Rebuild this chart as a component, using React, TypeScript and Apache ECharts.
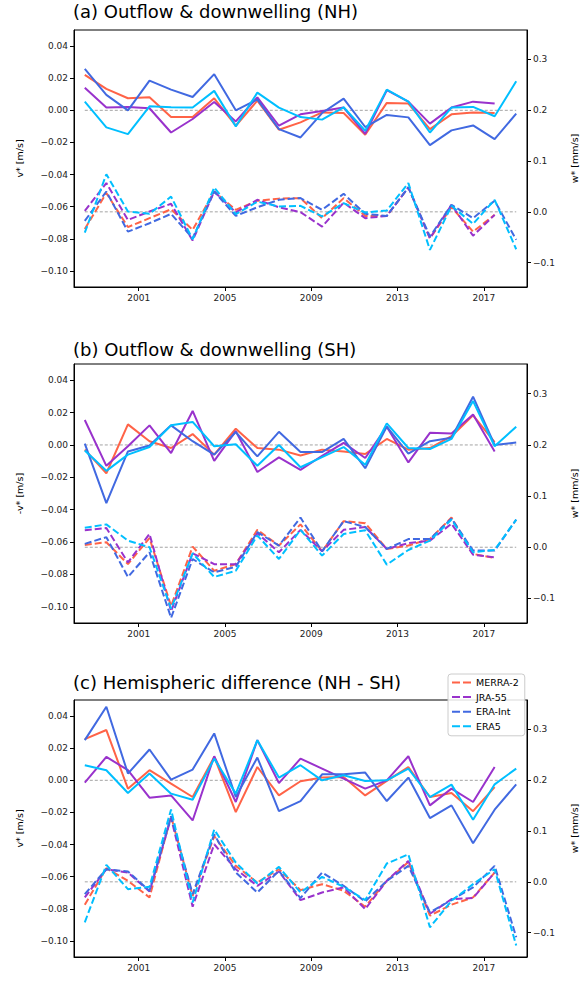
import React, { useEffect, useRef } from "react";
import * as echarts from "echarts";

const years = [1998.5, 1999.5, 2000.5, 2001.5, 2002.5, 2003.5, 2004.5, 2005.5, 2006.5, 2007.5, 2008.5, 2009.5, 2010.5, 2011.5, 2012.5, 2013.5, 2014.5, 2015.5, 2016.5, 2017.5, 2018.5];
const reanalyses = ["MERRA-2", "JRA-55", "ERA-Int", "ERA5"];
const colors = ["#FF6347", "#9932CC", "#4169E1", "#00BFFF"];
const panelTitles = ["(a) Outflow & downwelling (NH)", "(b) Outflow & downwelling (SH)", "(c) Hemispheric difference (NH - SH)"];
const leftNames = ["v* [m/s]", "-v* [m/s]", "v* [m/s]"];
const rightName = "w* [mm/s]";
const xTicks = [2001, 2005, 2009, 2013, 2017];
const vTicks = [-0.1, -0.08, -0.06, -0.04, -0.02, 0, 0.02, 0.04];
const wTicks = [-0.1, 0, 0.1, 0.2, 0.3];

// Panel (a) NH: v* (solid, left axis)
const aV_merra = [0.0221, 0.0133, 0.0075, 0.0081, -0.0042, -0.0042, 0.0075, -0.0096, 0.006, -0.0121, -0.0075, -0.0013, -0.0017, -0.0152, 0.0046, 0.0042, -0.0117, -0.0025, -0.0013, -0.0017];
const aV_jra = [0.014, 0.0017, 0.0021, 0.0013, -0.0138, -0.0054, 0.0052, -0.0069, 0.0081, -0.0096, -0.0025, -0.0004, 0.0017, -0.0146, 0.0125, 0.0054, -0.0083, 0.0017, 0.0054, 0.0042];
const aV_erai = [0.0258, 0.0096, 0.0, 0.0185, 0.0129, 0.0083, 0.0225, 0.0, 0.0067, -0.0117, -0.0169, -0.0017, 0.0073, -0.0104, -0.0029, -0.0044, -0.0217, -0.0125, -0.0094, -0.0179, -0.0021];
const aV_era5 = [0.0054, -0.0106, -0.0148, 0.0025, 0.0019, 0.0017, 0.0121, -0.01, 0.011, 0.0017, -0.0042, -0.0058, 0.0019, -0.0127, 0.0129, 0.0054, -0.0138, 0.0017, 0.0021, -0.0037, 0.0181];
// Panel (a) NH: w* (dashed, right axis)
const aW_merra = [-0.034, 0.037, -0.03, -0.0125, 0.005, -0.0355, 0.04, 0.004, 0.022, 0.026, 0.027, -0.0125, 0.027, -0.008, -0.008, 0.048, -0.052, 0.009, -0.039, -0.006];
const aW_jra = [0.002, 0.0566, -0.016, 0.0007, 0.0158, -0.0566, 0.04, -0.001, 0.0237, 0.009, -0.0007, -0.029, 0.018, -0.0125, -0.008, 0.048, -0.052, 0.0138, -0.047, -0.006];
const aW_erai = [-0.0178, 0.04, -0.039, -0.0224, -0.004, -0.052, 0.04, -0.008, 0.009, 0.0237, 0.027, 0.004, 0.0355, -0.004, -0.008, 0.048, -0.0487, 0.0138, -0.0125, 0.022, -0.055];
const aW_era5 = [-0.041, 0.074, 0.0007, -0.004, 0.03, -0.054, 0.048, -0.0046, 0.02, 0.0105, 0.0118, -0.009, 0.017, -0.0013, 0.0026, 0.0566, -0.075, 0.0118, -0.0237, 0.0237, -0.0737];

// Panel (b) SH: -v* (solid, left axis)
const bV_merra = [-0.0029, -0.0175, 0.0127, 0.0023, -0.0019, 0.0067, -0.006, 0.01, -0.0019, -0.0029, -0.0065, -0.0029, -0.004, -0.0056, 0.0037, -0.0029, -0.0019, 0.0054, 0.0183, 0.0017];
const bV_jra = [0.0154, -0.0129, -0.0008, 0.0121, -0.005, 0.021, -0.0098, 0.0085, -0.0167, -0.0077, -0.0154, -0.0067, 0.0013, -0.0081, 0.0113, -0.0108, 0.0075, 0.0071, 0.0188, -0.004];
const bV_erai = [0.0008, -0.0359, -0.004, -0.0004, 0.0121, 0.0023, -0.006, 0.0079, -0.0071, 0.0081, -0.0044, -0.0044, 0.0037, -0.0144, 0.0113, -0.0054, 0.0023, 0.0044, 0.0298, 0.0, 0.0015];
const bV_era5 = [-0.0035, -0.016, -0.006, -0.0013, 0.0121, 0.0142, -0.0008, 0.0004, -0.0129, 0.0, -0.0138, -0.0075, -0.0013, -0.0123, 0.0133, -0.0019, -0.0025, 0.0037, 0.0271, -0.0008, 0.0113];
// Panel (b) SH: w* (dashed, right axis)
const bW_merra = [0.0046, 0.0099, -0.033, 0.018, -0.115, 0.0013, -0.046, -0.033, 0.034, 0.0033, 0.0447, -0.0079, 0.051, 0.047, -0.0033, 0.0033, 0.016, 0.058, -0.013, -0.021];
const bW_jra = [0.033, 0.0375, -0.0296, 0.026, -0.125, -0.0118, -0.033, -0.033, 0.0276, -0.0099, 0.034, -0.0079, 0.034, 0.0395, -0.0033, 0.0079, 0.013, 0.046, -0.0145, -0.0197];
const bW_erai = [0.0066, 0.0197, -0.058, -0.0099, -0.138, -0.023, -0.049, -0.038, 0.0296, 0.0033, 0.058, -0.0079, 0.051, 0.0395, -0.0033, 0.016, 0.016, 0.056, -0.0066, -0.0066, 0.054];
const bW_era5 = [0.038, 0.0447, 0.013, 0.0, -0.12, -0.0118, -0.058, -0.046, 0.023, -0.023, 0.034, -0.0164, 0.026, 0.033, -0.034, -0.0053, 0.013, 0.054, -0.0099, -0.0053, 0.054];

// Panel (c) NH - SH: v* (solid, left axis)
const cV_merra = [0.0256, 0.0313, -0.0052, 0.0063, -0.0021, -0.0104, 0.0146, -0.0198, 0.0083, -0.0094, -0.0006, 0.0017, 0.0021, -0.0094, -0.0004, 0.0083, -0.0104, -0.0079, -0.0192, -0.0042];
const cV_jra = [-0.0015, 0.0146, 0.0063, -0.0108, -0.0094, -0.025, 0.015, -0.0135, 0.025, -0.0017, 0.0135, 0.0073, 0.001, -0.0052, 0.0, 0.015, -0.0156, -0.0052, -0.0135, 0.0083];
const cV_erai = [0.025, 0.0458, 0.0042, 0.0192, 0.0004, 0.0067, 0.0292, -0.0104, 0.0142, -0.0192, -0.0129, 0.0037, 0.0037, 0.0048, -0.0129, 0.0017, -0.0235, -0.0156, -0.0392, -0.0183, -0.0025];
const cV_era5 = [0.0094, 0.0063, -0.0079, 0.0042, -0.0083, -0.0121, 0.0135, -0.0083, 0.025, 0.0017, 0.0094, 0.0, 0.0031, -0.0004, 0.0, 0.0073, -0.0104, -0.0027, -0.0245, -0.0025, 0.0073];
// Panel (c) NH - SH: w* (dashed, right axis)
const cW_merra = [-0.045, 0.0268, 0.002, -0.0307, 0.129, -0.0275, 0.09, 0.0314, -0.0013, 0.0248, -0.0163, -0.0046, -0.0176, -0.049, 0.002, 0.039, -0.0667, -0.045, -0.0307, 0.0183];
const cW_jra = [-0.0307, 0.0248, 0.0183, -0.019, 0.126, -0.049, 0.074, 0.0248, -0.0078, 0.0203, -0.036, -0.021, -0.011, -0.0536, 0.002, 0.0412, -0.063, -0.034, -0.032, 0.0183];
const cW_erai = [-0.0242, 0.0248, 0.0203, -0.0176, 0.129, -0.0242, 0.0935, 0.0183, -0.021, 0.0216, -0.032, 0.0183, -0.0078, -0.0386, 0.002, 0.0314, -0.06, -0.036, -0.011, 0.0314, -0.109];
const cW_era5 = [-0.0797, 0.0333, -0.0144, -0.0098, 0.1425, -0.0405, 0.103, 0.0379, -0.0033, 0.0294, -0.021, 0.0098, -0.0098, -0.036, 0.036, 0.054, -0.0895, -0.0373, -0.0046, 0.0248, -0.1255];

const vSeries = [
  [aV_merra, aV_jra, aV_erai, aV_era5],
  [bV_merra, bV_jra, bV_erai, bV_era5],
  [cV_merra, cV_jra, cV_erai, cV_era5],
];
const wSeries = [
  [aW_merra, aW_jra, aW_erai, aW_era5],
  [bW_merra, bW_jra, bW_erai, bW_era5],
  [cW_merra, cW_jra, cW_erai, cW_era5],
];

const FONT = "DejaVu Sans";
const gridTops = [30, 364, 700];
const gridHeights = [257, 259, 257];
const titleTops = [2, 340, 673];

const fmtMinus = (s: string) => s.replace("-", "\u2212");

export default function App() {
  const ref = useRef<HTMLDivElement>(null);
  useEffect(() => {
    document.body.style.margin = "0";
    const chart = echarts.init(ref.current!, null, { renderer: "svg" });
    const grids: any[] = [];
    const xAxes: any[] = [];
    const yAxes: any[] = [];
    const series: any[] = [];
    const titles: any[] = [];
    for (let p = 0; p < 3; p++) {
      titles.push({
        text: panelTitles[p],
        left: 73,
        top: titleTops[p],
        padding: 0,
        textStyle: { fontFamily: FONT, fontSize: 18, fontWeight: "normal", color: "#000" },
      });
      grids.push({
        left: 74,
        width: 460,
        top: gridTops[p],
        height: gridHeights[p],
        show: true,
        borderColor: "#000",
        borderWidth: 1,
        backgroundColor: "transparent",
      });
      xAxes.push({
        type: "value",
        gridIndex: p,
        min: 1998,
        max: 2019,
        splitLine: { show: false },
        axisLine: { show: true, onZero: false, lineStyle: { color: "#000", width: 1 } },
        axisTick: { show: true, customValues: xTicks, length: 4, lineStyle: { color: "#000" } },
        axisLabel: {
          customValues: xTicks,
          fontFamily: FONT,
          fontSize: 9,
          color: "#222",
          margin: 6,
          formatter: (v: number) => String(v),
        },
      });
      yAxes.push({
        type: "value",
        gridIndex: p,
        position: "left",
        min: -0.11,
        max: 0.05,
        splitLine: { show: false },
        axisLine: { show: true, onZero: false, lineStyle: { color: "#000", width: 1 } },
        axisTick: { show: true, customValues: vTicks, length: 4, lineStyle: { color: "#000" } },
        axisLabel: {
          customValues: vTicks,
          fontFamily: FONT,
          fontSize: 9,
          color: "#222",
          margin: 6,
          formatter: (v: number) => (Math.abs(v) < 1e-9 ? "0.00" : fmtMinus(v.toFixed(2))),
        },
        name: leftNames[p],
        nameLocation: "middle",
        nameRotate: 90,
        nameGap: 50,
        nameTextStyle: { fontFamily: FONT, fontSize: 9.5, color: "#000" },
      });
      yAxes.push({
        type: "value",
        gridIndex: p,
        position: "right",
        min: -0.148,
        max: 0.358,
        splitLine: { show: false },
        axisLine: { show: true, onZero: false, lineStyle: { color: "#000", width: 1 } },
        axisTick: { show: true, customValues: wTicks, length: 4, lineStyle: { color: "#000" } },
        axisLabel: {
          customValues: wTicks,
          fontFamily: FONT,
          fontSize: 9,
          color: "#222",
          margin: 6,
          formatter: (v: number) => (Math.abs(v) < 1e-9 ? "0.0" : fmtMinus(v.toFixed(1))),
        },
        name: rightName,
        nameLocation: "middle",
        nameRotate: 90,
        nameGap: 42,
        nameTextStyle: { fontFamily: FONT, fontSize: 9.5, color: "#000" },
      });
      // zero reference lines
      series.push({
        type: "line",
        name: "",
        xAxisIndex: p,
        yAxisIndex: 2 * p,
        data: [[years[0], 0], [years[years.length - 1], 0]],
        showSymbol: false,
        silent: true,
        lineStyle: { color: "#999", width: 0.9, type: [3, 2] },
        z: 1,
      });
      series.push({
        type: "line",
        name: "",
        xAxisIndex: p,
        yAxisIndex: 2 * p + 1,
        data: [[years[0], 0], [years[years.length - 1], 0]],
        showSymbol: false,
        silent: true,
        lineStyle: { color: "#999", width: 0.9, type: [3, 2] },
        z: 1,
      });
      for (let r = 0; r < 4; r++) {
        series.push({
          type: "line",
          name: reanalyses[r],
          xAxisIndex: p,
          yAxisIndex: 2 * p,
          data: vSeries[p][r].map((v, i) => [years[i], v]),
          showSymbol: false,
          color: colors[r],
          lineStyle: { color: colors[r], width: 2 },
          z: 2,
        });
        series.push({
          type: "line",
          name: reanalyses[r],
          xAxisIndex: p,
          yAxisIndex: 2 * p + 1,
          data: wSeries[p][r].map((v, i) => [years[i], v]),
          showSymbol: false,
          color: colors[r],
          lineStyle: { color: colors[r], width: 2, type: [7, 3] },
          z: 2,
        });
      }
    }
    const dashIcon = "path://M0,0H8V2H0Z M11,0H19V2H11Z";
    chart.setOption({
      animation: false,
      backgroundColor: "#fff",
      title: titles,
      grid: grids,
      xAxis: xAxes,
      yAxis: yAxes,
      series,
      legend: {
        data: reanalyses.map((n) => ({ name: n, icon: dashIcon })),
        orient: "vertical",
        left: 448,
        top: 674,
        itemWidth: 19,
        itemHeight: 2.5,
        itemGap: 3.6,
        padding: [3, 6, 4, 4],
        backgroundColor: "rgba(255,255,255,0.85)",
        borderColor: "#ccc",
        borderWidth: 1,
        borderRadius: 3,
        selectedMode: false,
        textStyle: { fontFamily: FONT, fontSize: 9.5, color: "#000", lineHeight: 11 },
      },
    });
    return () => chart.dispose();
  }, []);
  return <div ref={ref} style={{ width: 587, height: 982 }} />;
}
